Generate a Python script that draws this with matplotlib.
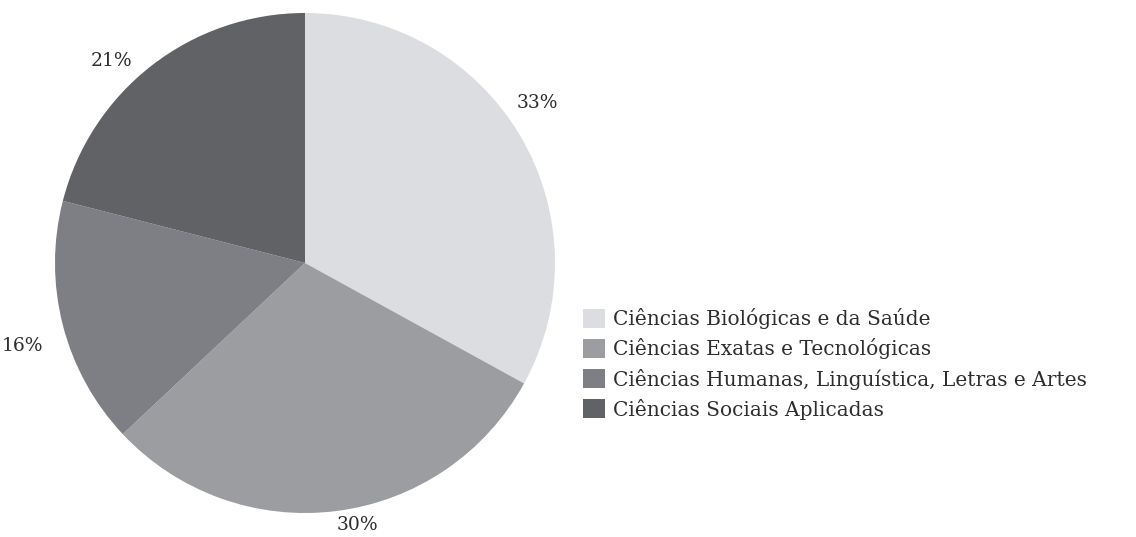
import numpy as np
import matplotlib
matplotlib.use("Agg")
import matplotlib.pyplot as plt
from matplotlib.patches import Patch

# areas and their shares (%)
categories = [
    "Ciências Biológicas e da Saúde",
    "Ciências Exatas e Tecnológicas",
    "Ciências Humanas, Linguística, Letras e Artes",
    "Ciências Sociais Aplicadas",
]
shares = [33, 30, 16, 21]
colors = ["#dcdde0", "#9c9da1", "#7e7f84", "#616265"]

# small nudges for the percentage labels (degrees, radius)
label_angle_shift = [4, 4, 2, 6]
label_radius = [1.13, 1.07, 1.18, 1.12]

plt.rcParams["font.family"] = ["DejaVu Serif"]
text_color = "#2e2e2e"

fig = plt.figure(figsize=(11.36, 5.37), dpi=100)
ax = fig.add_axes([55 / 1136, 24 / 537, 500 / 1136, 500 / 537])

wedges, _ = ax.pie(shares, colors=colors, startangle=90, counterclock=False,
                   radius=1, wedgeprops=dict(linewidth=0))
ax.set_xlim(-1, 1)
ax.set_ylim(-1, 1)
ax.set_aspect("equal")

for w, val, da, r in zip(wedges, shares, label_angle_shift, label_radius):
    theta = np.deg2rad((w.theta1 + w.theta2) / 2 + da)
    ax.text(r * np.cos(theta), r * np.sin(theta), f"{val}%",
            ha="center", va="center", fontsize=13.5, color=text_color)

handles = [Patch(facecolor=c, edgecolor="none") for c in colors]
leg = fig.legend(handles, categories, loc="center left",
                 bbox_to_anchor=(573 / 1136, 1 - 364 / 537), frameon=False,
                 fontsize=14.5, handlelength=1.1, handleheight=1.1,
                 handletextpad=0.4, labelspacing=0.45, borderpad=0)
for t in leg.get_texts():
    t.set_color(text_color)

fig.savefig("out.png", dpi=100)
